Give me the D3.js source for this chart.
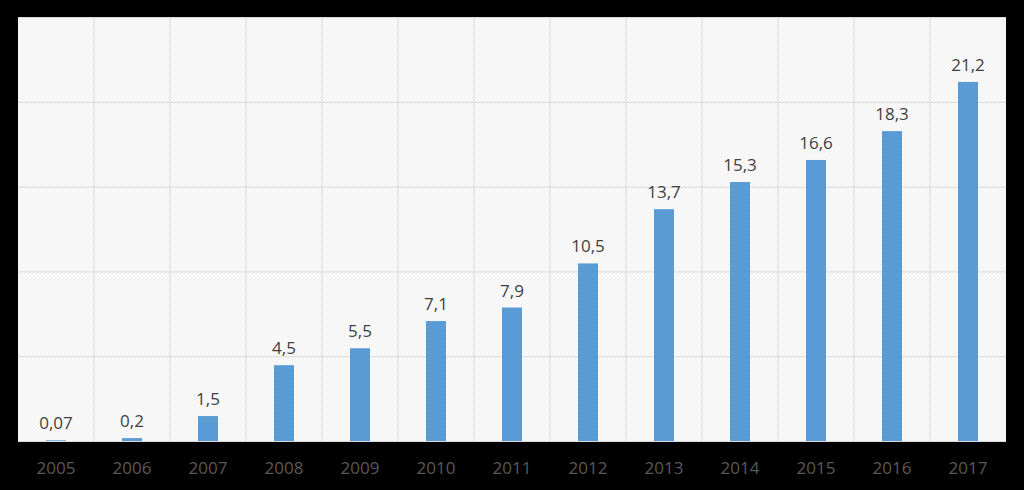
<!DOCTYPE html>
<html>
<head>
<meta charset="utf-8">
<script src="https://cdn.jsdelivr.net/npm/d3@7"></script>
<style>
  html, body { margin: 0; padding: 0; background: #000; }
  svg { display: block; }
</style>
</head>
<body>
<script>
const years = ["2005","2006","2007","2008","2009","2010","2011","2012","2013","2014","2015","2016","2017"];
const values = [0.07, 0.2, 1.5, 4.5, 5.5, 7.1, 7.9, 10.5, 13.7, 15.3, 16.6, 18.3, 21.2];
const labels = ["0,07","0,2","1,5","4,5","5,5","7,1","7,9","10,5","13,7","15,3","16,6","18,3","21,2"];
const yTicks = [0, 5, 10, 15, 20, 25];

const W = 1024, H = 490;
const plot = {left: 18, top: 17.5, right: 1006, bottom: 441.5};

const svg = d3.select("body").append("svg").attr("width", W).attr("height", H);
svg.append("rect").attr("width", W).attr("height", H).attr("fill", "#000");

const defs = svg.append("defs");
const pat = defs.append("pattern").attr("id", "hatch").attr("patternUnits", "userSpaceOnUse")
  .attr("width", 4).attr("height", 4);
pat.append("rect").attr("width", 4).attr("height", 4).attr("fill", "#f4f4f4");
pat.append("path").attr("d", "M-1,1 l2,-2 M0,4 l4,-4 M3,5 l2,-2")
  .attr("stroke", "#fdfdfd").attr("stroke-width", 1.2);

const x = d3.scaleBand().domain(years).range([plot.left, plot.right]).paddingInner(0).paddingOuter(0);
const y = d3.scaleLinear().domain([0, 25]).range([plot.bottom, plot.top]);

svg.append("rect").attr("x", plot.left).attr("y", plot.top)
  .attr("width", plot.right - plot.left).attr("height", plot.bottom - plot.top)
  .attr("fill", "url(#hatch)");

// horizontal gridlines
svg.append("g").selectAll("line").data(yTicks.slice(1)).join("line")
  .attr("x1", plot.left).attr("x2", plot.right)
  .attr("y1", d => y(d)).attr("y2", d => y(d))
  .attr("stroke", "#d9d9d9").attr("stroke-width", 1);

// vertical gridlines (category boundaries)
svg.append("g").selectAll("line").data(years.slice(1)).join("line")
  .attr("x1", d => x(d)).attr("x2", d => x(d))
  .attr("y1", plot.top).attr("y2", plot.bottom)
  .attr("stroke", "#d9d9d9").attr("stroke-width", 1);

const barW = 20;
svg.append("g").selectAll("rect").data(values).join("rect")
  .attr("x", (d, i) => x(years[i]) + x.bandwidth() / 2 - barW / 2)
  .attr("width", barW)
  .attr("y", d => y(d))
  .attr("height", d => Math.max(0, y(0) - y(d)))
  .attr("fill", "#5b9bd5");

// baseline
svg.append("line").attr("x1", plot.left).attr("x2", plot.right)
  .attr("y1", plot.bottom).attr("y2", plot.bottom)
  .attr("stroke", "#d9d9d9").attr("stroke-width", 1);

svg.append("g").selectAll("text").data(values).join("text")
  .attr("x", (d, i) => x(years[i]) + x.bandwidth() / 2)
  .attr("y", d => y(d) - 11)
  .attr("text-anchor", "middle")
  .attr("font-family", "'Open Sans', sans-serif")
  .attr("font-size", 17)
  .attr("fill", "#404040")
  .text((d, i) => labels[i]);

// x axis labels
const xAxis = d3.axisBottom(x).tickSize(0).tickPadding(0);
const gx = svg.append("g").attr("transform", `translate(0,${plot.bottom})`).call(xAxis);
gx.select(".domain").remove();
gx.selectAll("text")
  .attr("y", 32)
  .attr("dy", 0)
  .attr("font-family", "'Open Sans', sans-serif")
  .attr("font-size", 17)
  .attr("fill", "#595959");
</script>
</body>
</html>
